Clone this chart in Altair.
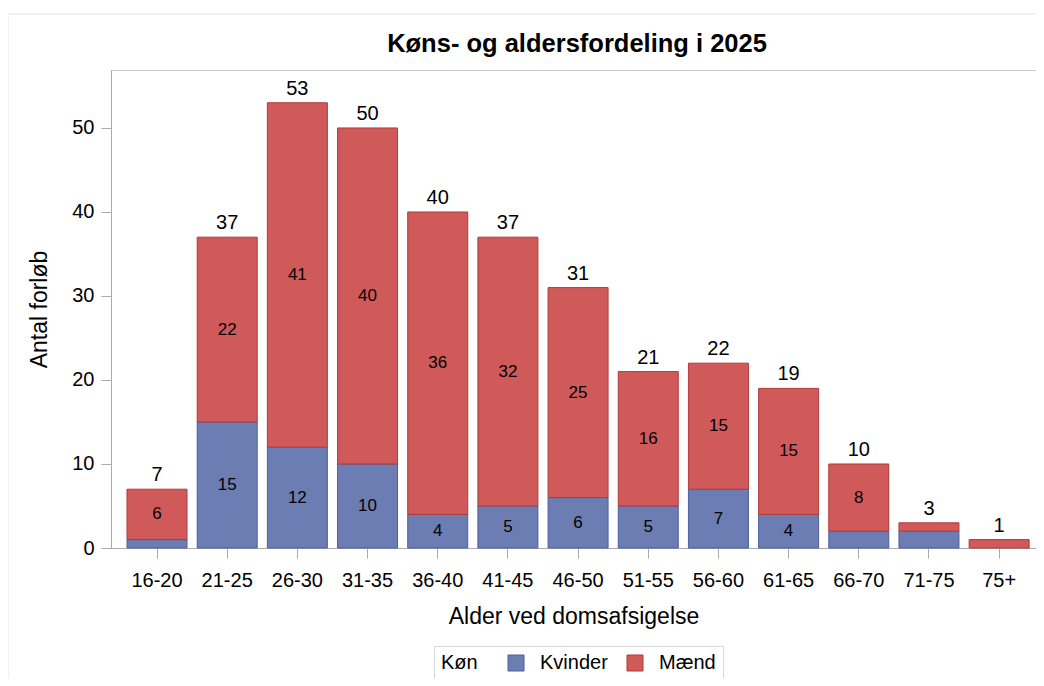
import altair as alt
import pandas as pd

ages = ["16-20", "21-25", "26-30", "31-35", "36-40", "41-45", "46-50",
        "51-55", "56-60", "61-65", "66-70", "71-75", "75+"]
kvinder = [1, 15, 12, 10, 4, 5, 6, 5, 7, 4, 2, 2, 0]
maend = [6, 22, 41, 40, 36, 32, 25, 16, 15, 15, 8, 1, 1]
groups = ["Kvinder", "Mænd"]
fill_colors = ["#6c7db4", "#d05a5a"]
stroke_colors = ["#4f5f9f", "#b03a3a"]
y_ticks = [0, 10, 20, 30, 40, 50]
title_text = "Køns- og aldersfordeling i 2025"

FONT = "Liberation Sans"

rows = []
for a, k, m in zip(ages, kvinder, maend):
    rows.append({"age": a, "kon": groups[0], "antal": k, "ord": 0})
    rows.append({"age": a, "kon": groups[1], "antal": m, "ord": 1})
df = pd.DataFrame(rows)
df = df[df["antal"] > 0]
tot = pd.DataFrame({"age": ages, "total": [k + m for k, m in zip(kvinder, maend)]})

xscale = alt.Scale(domain=ages, paddingInner=0.145, paddingOuter=0.163, align=0.7)
yscale = alt.Scale(domain=[0, 56.9], nice=False)

x_enc = alt.X("age:N", sort=ages, scale=xscale,
              axis=alt.Axis(title="Alder ved domsafsigelse", labelAngle=0,
                            labelFontSize=20, labelFont=FONT, labelColor="black",
                            labelPadding=12, tickSize=10, tickColor="#a8acb0",
                            domainColor="#a8acb0", titleFont=FONT, titleFontSize=23,
                            titleFontWeight="normal", titleColor="black",
                            titleBaseline="alphabetic", titleY=75))

bars = alt.Chart(df).mark_bar(strokeWidth=1).encode(
    x=x_enc,
    y=alt.Y("antal:Q", stack="zero", scale=yscale,
            axis=alt.Axis(title="Antal forløb", values=y_ticks, grid=False,
                          labelFontSize=20, labelFont=FONT, labelColor="black",
                          labelPadding=7, tickSize=10, tickColor="#a8acb0",
                          domainColor="#a8acb0", titleFont=FONT, titleFontSize=23,
                          titleFontWeight="normal", titleColor="black",
                          titleBaseline="alphabetic", titleX=-65, titleY=239,
                          titleAlign="center", titleAngle=270)),
    fill=alt.Fill("kon:N", scale=alt.Scale(domain=groups, range=fill_colors),
                  legend=alt.Legend(title="Køn")),
    stroke=alt.Stroke("kon:N", scale=alt.Scale(domain=groups, range=stroke_colors),
                      legend=alt.Legend(title="Køn")),
    order=alt.Order("ord:Q", sort="ascending"),
)

inner = alt.Chart(df).transform_stack(
    stack="antal", groupby=["age"], as_=["v0", "v1"],
    sort=[alt.SortField("ord", order="ascending")]
).transform_calculate(
    mid="(datum.v0 + datum.v1) / 2"
).transform_filter(
    "datum.antal >= 4"
).mark_text(font=FONT, fontSize=17, color="black", baseline="middle").encode(
    x=alt.X("age:N", sort=ages, scale=xscale),
    y=alt.Y("mid:Q", scale=yscale),
    text="antal:Q",
)

totals = alt.Chart(tot).mark_text(font=FONT, fontSize=20, color="black",
                                  baseline="alphabetic", dy=-8).encode(
    x=alt.X("age:N", sort=ages, scale=xscale),
    y=alt.Y("total:Q", scale=yscale),
    text="total:Q",
)

one = pd.DataFrame({"t": [title_text]})
frame_top = alt.Chart(one).mark_rule(color="#e4e4e4", strokeWidth=1).encode(
    x=alt.value(-103), x2=alt.value(925), y=alt.value(-56))
frame_left = alt.Chart(one).mark_rule(color="#e4e4e4", strokeWidth=1).encode(
    x=alt.value(-103), y=alt.value(-56), y2=alt.value(608))
title = alt.Chart(one).mark_text(font=FONT, fontSize=25.5, fontWeight="bold",
                                 color="black", align="center",
                                 baseline="alphabetic").encode(
    x=alt.value(466), y=alt.value(-18), text="t:N")

chart = alt.layer(frame_top, frame_left, bars, inner, totals, title).properties(
    width=925, height=478,
    autosize=alt.AutoSizeParams(type="none"),
    padding={"left": 103, "top": 62, "right": 0, "bottom": 130},
).configure_view(
    stroke="#c8ccd0", strokeWidth=1
).configure_legend(
    orient="none", legendX=323, legendY=576, direction="horizontal",
    titleOrient="left", titleFont=FONT, titleFontSize=20, titleFontWeight="normal",
    titleColor="black", titlePadding=28, labelFont=FONT, labelFontSize=20,
    labelColor="black", labelOffset=14, columnPadding=17, symbolType="square",
    symbolSize=256, symbolStrokeWidth=1, strokeColor="#d8d8d8", padding=7,
    titleBaseline="middle",
)

chart.save("out.html", embed_options={"renderer": "svg", "actions": False})
